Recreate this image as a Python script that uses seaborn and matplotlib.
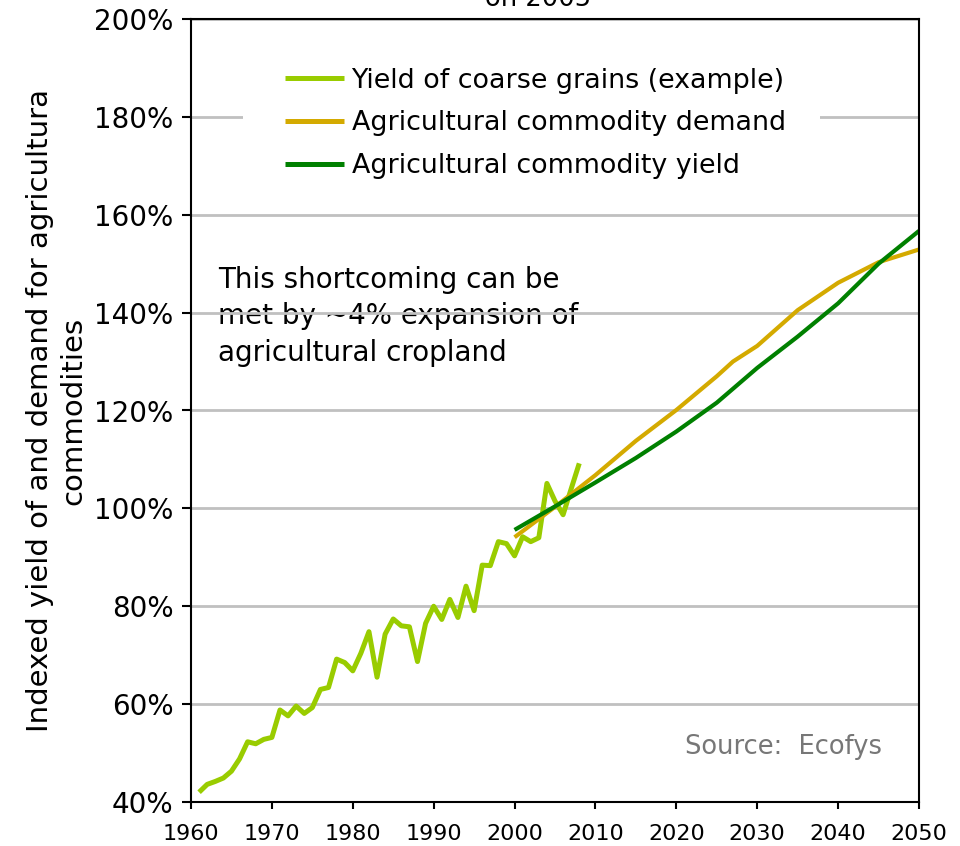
import matplotlib
matplotlib.use("Agg")
import matplotlib.pyplot as plt
from matplotlib.patches import Rectangle
import seaborn as sns
import pandas as pd
from matplotlib.ticker import PercentFormatter

# Historic yield of coarse grains, indexed (%)
grain_years = list(range(1961, 2009))
grain_yield = [42.0, 43.6, 44.2, 44.9, 46.3, 48.8, 52.3, 51.9, 52.8, 53.2,
               58.8, 57.6, 59.6, 58.1, 59.3, 63.0, 63.4, 69.2, 68.5, 66.8,
               70.4, 74.8, 65.5, 74.3, 77.4, 76.0, 75.8, 68.7, 76.5, 80.0,
               77.3, 81.4, 77.7, 84.1, 79.1, 88.4, 88.3, 93.2, 92.8, 90.3,
               94.2, 93.2, 94.0, 105.1, 101.5, 98.7, 104.0, 109.2]

# Projected agricultural commodity demand (%)
demand_years = [2000, 2005, 2010, 2015, 2020, 2025, 2027, 2030, 2035, 2040, 2045, 2050]
demand_vals = [94.1, 100.3, 106.8, 113.8, 120.1, 127.0, 130.0, 133.2, 140.5, 146.1, 150.3, 152.9]

# Projected agricultural commodity yield (%)
yield_years = [2000, 2005, 2010, 2015, 2020, 2025, 2030, 2035, 2040, 2045, 2050]
yield_vals = [95.6, 100.4, 105.3, 110.3, 115.7, 121.6, 128.7, 135.1, 141.9, 150.0, 156.7]

labels = ["Yield of coarse grains (example)",
          "Agricultural commodity demand",
          "Agricultural commodity yield"]
x_ticks = list(range(1960, 2051, 10))
y_ticks = list(range(40, 201, 20))

sns.set_theme(style="white")
plt.rcParams["font.family"] = ["DejaVu Sans"]
plt.rcParams.update({"text.color": "black", "axes.labelcolor": "black",
                     "xtick.color": "black", "ytick.color": "black"})

fig = plt.figure(figsize=(9.6, 8.46), dpi=100)
ax = fig.add_axes([191 / 960, 1 - 802 / 846, 728 / 960, 783 / 846])

grain_df = pd.DataFrame({"year": grain_years, "value": grain_yield})
demand_df = pd.DataFrame({"year": demand_years, "value": demand_vals})
yield_df = pd.DataFrame({"year": yield_years, "value": yield_vals})

line_kw = dict(solid_joinstyle="round", solid_capstyle="butt")
sns.lineplot(data=grain_df, x="year", y="value", color="#99CC00", lw=3.6,
             label=labels[0], ax=ax, **line_kw)
sns.lineplot(data=demand_df, x="year", y="value", color="#D4AA00", lw=3.0,
             label=labels[1], ax=ax, **line_kw)
sns.lineplot(data=yield_df, x="year", y="value", color="#008000", lw=3.0,
             label=labels[2], ax=ax, **line_kw)

ax.set_xlim(1960, 2050)
ax.set_ylim(40, 200)
ax.set_xticks(x_ticks)
ax.set_yticks(y_ticks)
ax.yaxis.set_major_formatter(PercentFormatter(decimals=0))
ax.set_xlabel("")
ax.set_ylabel("Indexed yield of and demand for agricultura\ncommodities",
              fontsize=21, labelpad=5, linespacing=1.25)

ax.tick_params(axis="y", which="major", left=True, direction="out", length=6.5,
               width=1.5, labelsize=20, pad=6)
ax.tick_params(axis="x", which="major", bottom=True, direction="out", length=5,
               width=1.5, labelsize=16, pad=11)

ax.grid(axis="y", color="#C0C0C0", lw=2)
ax.grid(axis="x", visible=False)
ax.set_axisbelow(True)
for spine in ax.spines.values():
    spine.set_visible(True)
    spine.set_color("black")
    spine.set_linewidth(1.5)

# White panel behind the legend entries
ax.add_patch(Rectangle((0.0714, 0.775), 0.7926, 0.192, transform=ax.transAxes,
                       facecolor="white", edgecolor="none", zorder=1))

leg = ax.legend(loc="upper left", bbox_to_anchor=(0.1291, 0.938),
                fontsize=19.4, frameon=False, handlelength=2.2,
                handletextpad=0.27, labelspacing=0.62, borderpad=0,
                borderaxespad=0)
for h in leg.legend_handles:
    h.set_linewidth(3.6)

ax.text(1963.37, 149.6,
        "This shortcoming can be\nmet by ~4% expansion of\nagricultural cropland",
        ha="left", va="top", fontsize=20, linespacing=1.4,
        zorder=0.4, transform=ax.transData)

ax.text(2045.4, 51.3, "Source:  Ecofys", ha="right", va="center",
        fontsize=18.5, color="#777777", transform=ax.transData)

fig.text(538 / 960, 1 - 6 / 846, "on 2005", ha="center", va="baseline", fontsize=18.5)

fig.savefig("out.png", dpi=100)
